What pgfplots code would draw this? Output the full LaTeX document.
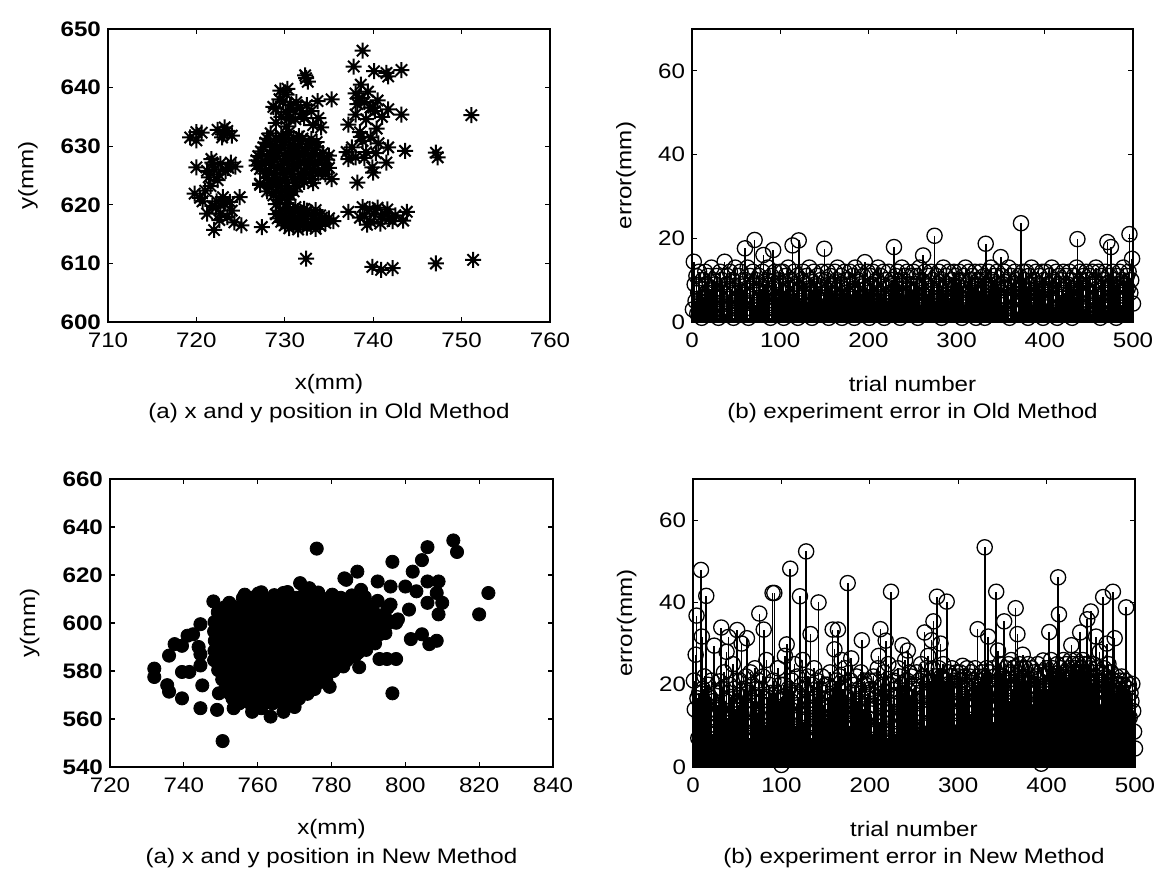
\documentclass[border=0pt]{standalone}
\usepackage{fontspec}
\setmainfont{Liberation Sans}
\usepackage{graphicx}
\usepackage{pgfplots}
\usepackage{pgfplotstable}
\pgfplotsset{compat=1.18}

\pgfdeclareplotmark{mstar}{%
  \pgfpathmoveto{\pgfpoint{-\pgfplotmarksize}{0pt}}\pgfpathlineto{\pgfpoint{\pgfplotmarksize}{0pt}}%
  \pgfpathmoveto{\pgfpoint{0pt}{-\pgfplotmarksize}}\pgfpathlineto{\pgfpoint{0pt}{\pgfplotmarksize}}%
  \pgfpathmoveto{\pgfpoint{-0.707\pgfplotmarksize}{-0.707\pgfplotmarksize}}\pgfpathlineto{\pgfpoint{0.707\pgfplotmarksize}{0.707\pgfplotmarksize}}%
  \pgfpathmoveto{\pgfpoint{-0.707\pgfplotmarksize}{0.707\pgfplotmarksize}}\pgfpathlineto{\pgfpoint{0.707\pgfplotmarksize}{-0.707\pgfplotmarksize}}%
  \pgfusepathqstroke}

\newcommand{\lab}[1]{\scalebox{1.15}[1]{#1}}
\newcommand{\fs}{\fontsize{10.5}{12.6}\selectfont}

% error of Old Method, trials 1..500
\pgfplotstableread[row sep=\\, header=false]{
3\\14.4\\9\\5\\11\\2\\7\\12\\4\\8\\1\\10\\6\\3\\12\\9\\5\\11\\7\\2\\8\\13\\4\\10\\6\\
9\\3\\11\\6\\1\\8\\12\\4\\10\\7\\5\\14.4\\2\\9\\11\\6\\3\\12\\8\\4\\10\\1\\7\\13\\5\\
8\\2\\11\\6\\12\\4\\9\\7\\3\\17.6\\10\\5\\13\\1\\8\\11\\6\\2\\12\\9\\19.6\\4\\10\\7\\3\\
11\\5\\8\\2\\12\\16\\6\\9\\3\\10\\13\\4\\7\\1\\11\\8\\17.2\\5\\12\\3\\9\\6\\10\\2\\12\\
4\\9\\12\\1\\7\\11\\5\\8\\13\\3\\10\\6\\2\\18.3\\9\\12\\4\\7\\11\\1\\19.5\\8\\5\\10\\3\\
12\\6\\9\\2\\11\\4\\8\\13\\5\\10\\1\\7\\12\\3\\9\\6\\11\\4\\8\\2\\10\\12\\5\\7\\17.5\\
3\\10\\6\\12\\1\\8\\11\\4\\9\\7\\2\\12\\5\\10\\13\\6\\3\\9\\11\\1\\8\\4\\12\\7\\5\\
10\\2\\9\\12\\6\\4\\11\\8\\1\\13\\5\\7\\10\\3\\12\\9\\6\\2\\11\\4\\14.3\\8\\5\\12\\7\\
1\\11\\6\\9\\12\\3\\8\\5\\10\\2\\13\\7\\4\\11\\9\\6\\12\\1\\8\\10\\3\\5\\12\\7\\9\\
4\\10\\6\\17.9\\2\\11\\8\\12\\5\\9\\1\\7\\13\\3\\10\\6\\11\\4\\12\\8\\2\\9\\5\\11\\7\\
12\\3\\9\\6\\11\\1\\8\\13\\4\\10\\7\\15.9\\5\\12\\2\\9\\6\\11\\3\\8\\12\\4\\10\\7\\20.6\\
5\\11\\2\\9\\12\\6\\8\\1\\10\\13\\4\\7\\11\\3\\9\\12\\5\\8\\2\\10\\6\\12\\4\\11\\7\\
9\\3\\12\\6\\10\\1\\8\\11\\4\\13\\7\\2\\9\\12\\5\\10\\3\\11\\6\\8\\12\\1\\9\\4\\10\\
7\\12\\3\\10\\5\\11\\1\\18.7\\9\\6\\12\\2\\8\\13\\4\\10\\7\\11\\3\\9\\12\\5\\8\\6\\15.5\\
11\\4\\9\\12\\2\\8\\6\\10\\13\\1\\7\\11\\5\\9\\3\\12\\6\\10\\2\\8\\11\\4\\23.6\\7\\12\\
3\\10\\6\\12\\8\\1\\11\\5\\9\\13\\4\\7\\10\\2\\12\\6\\9\\3\\11\\8\\5\\12\\1\\10\\7\\
12\\4\\9\\6\\11\\2\\8\\13\\5\\10\\3\\7\\12\\1\\9\\11\\6\\4\\10\\8\\12\\2\\7\\11\\5\\
9\\3\\12\\7\\10\\1\\8\\11\\5\\6\\13\\19.8\\4\\9\\12\\2\\10\\7\\11\\3\\8\\12\\6\\10\\4\\
11\\7\\2\\12\\9\\5\\10\\13\\3\\8\\12\\6\\1\\11\\9\\4\\10\\7\\12\\2\\19.1\\8\\11\\5\\17.9\\
6\\12\\3\\10\\8\\1\\11\\9\\5\\12\\7\\4\\10\\13\\2\\9\\6\\11\\8\\12\\21\\7\\10\\15.1\\4.4\\
}\olderr

% error of New Method, trials 1..500
\pgfplotstableread[row sep=\\, header=false]{
21\\14\\27.3\\36.8\\16.7\\7\\18\\12\\47.9\\31.7\\19\\9\\22\\15\\41.6\\11\\20\\6\\17\\13\\21\\8\\16\\29.5\\12\\
18\\10\\15\\4\\20.8\\14\\33.9\\19\\11\\23\\7\\16\\28\\12\\31.6\\20\\9\\17\\13\\25\\6\\19\\14\\21\\33.3\\
15\\8\\21\\12\\30\\17\\5\\19\\13\\22\\31.3\\10\\18\\7\\23\\14\\20\\11\\16\\24\\9\\19\\13\\21\\37.3\\
12\\19\\8\\22\\33.4\\15\\10\\26\\17\\6\\20\\13\\18\\9\\42.3\\21\\42.3\\14\\18\\11\\24\\7\\16\\20\\0.5\\
17\\11\\20\\27\\9\\29.8\\14\\19\\6\\48.2\\16\\21\\12\\18\\25\\10\\15\\22\\8\\17\\41.5\\13\\20\\26\\11\\
19\\9\\52.4\\16\\22\\12\\18\\32.3\\7\\20\\14\\24\\10\\17\\21\\5\\40\\13\\19\\8\\22\\15\\11\\18\\20\\
12\\20\\7\\17\\23\\10\\15\\33.4\\19\\28.6\\13\\21\\9\\33.4\\16\\22\\6\\26\\14\\19\\11\\24\\17\\8\\44.7\\
15\\10\\21\\26.4\\13\\18\\8\\20\\12\\22\\16\\7\\19\\11\\23\\30.8\\14\\9\\21\\20\\17\\12\\18\\6\\21\\
19\\13\\8\\22\\15\\21\\10\\17\\24\\27\\11\\33.5\\16\\20\\9\\23\\14\\30.7\\18\\7\\25\\12\\20\\42.6\\15\\
11\\21\\17\\8\\19\\13\\24\\10\\22\\16\\20\\29.6\\14\\18\\26\\9\\21\\28.3\\12\\23\\17\\22\\7\\19\\14\\
20\\12\\23\\16\\9\\21\\18\\25\\13\\22\\17\\32.7\\10\\24\\19\\27\\14\\21\\11\\30.8\\24\\35.4\\16\\22\\12\\
41.4\\19\\24\\13\\30\\22\\17\\25\\11\\21\\20\\40.2\\15\\23\\9\\22\\18\\24\\13\\21\\19\\10\\23\\16\\22\\
18\\23\\14\\21\\24.6\\17\\22\\11\\20\\24\\15\\19\\22\\13\\23\\18\\21\\10\\24\\16\\20\\33.5\\22\\14\\21\\
19\\23\\12\\22\\53.4\\18\\24\\15\\31.7\\21\\23\\16\\20\\24\\11\\22\\19\\42.6\\14\\28.3\\21\\25\\17\\22\\20\\
22\\35.4\\18\\24\\13\\21\\25\\16\\23\\26\\19\\12\\24\\20\\38.6\\22\\32.3\\15\\25\\21\\18\\24\\27.3\\13\\22\\
24\\17\\21\\25\\12\\22\\19\\24\\15\\20\\23\\11\\22\\18\\25\\14\\21\\23\\0.8\\19\\25.9\\16\\22\\20\\24\\
19\\23\\32.8\\15\\26\\21\\24\\13\\22\\22\\18\\25\\46.1\\37.1\\20\\24\\12\\22\\26\\17\\23\\25\\15\\21\\24\\
22\\26\\29.6\\18\\25\\24\\21\\26\\15\\23\\25\\19\\32.7\\24\\22\\26\\17\\25\\23\\20\\35.9\\25\\18\\24\\37.8\\
23\\20\\25\\16\\22\\31.7\\24\\19\\21\\28\\15\\23\\20\\41.3\\24\\18\\22\\30\\19\\25\\21\\17\\23\\20\\42.6\\
21\\31.3\\18\\22\\16\\20\\13\\21\\19\\22\\10\\20\\17\\21\\38.8\\14\\19\\20\\12\\18\\16\\20.2\\13.6\\8.6\\4.5\\
}\newerr

\pgfplotsset{
  myaxis/.style={
    scale only axis,
    anchor=south west,
    axis line style={black, line width=0.8pt},
    tick align=inside,
    major tick length=2.5pt,
    tick style={black, line width=0.6pt},
    clip=false,
    scaled ticks=false,
    /pgf/number format/assume math mode=true,
    tick label style={font=\fs},
    xticklabel style={yshift=-2pt},
    xticklabel={\lab{\pgfmathprintnumber{\tick}}},
    yticklabel={\lab{\pgfmathprintnumber{\tick}}},
    every axis x label/.style={at={(axis description cs:0.5,0)}, anchor=center, yshift=-31pt, font=\fs},
    every axis y label/.style={rotate=90, anchor=center, font=\fs},
  },
  stemplot/.style={ycomb, black, line width=0.8pt, mark=o, mark size=3.8pt, mark options={solid, line width=0.65pt}},
}

\begin{document}
\begin{tikzpicture}

% ---------------- top left -----------------
\begin{axis}[myaxis, at={(54pt,278.5pt)}, width=221pt, height=146.5pt,
  xmin=710, xmax=760, ymin=600, ymax=650,
  xtick={710,720,...,760}, ytick={600,610,...,650},
  yticklabel={\bfseries\lab{\pgfmathprintnumber{\tick}}},
  xlabel={\lab{x(mm)}}, ylabel={\lab{y(mm)}},
  ylabel style={at={(axis description cs:-0.181,0.5)}}]
\addplot[only marks, black, mark=mstar, mark size=4pt, line width=1pt] coordinates {
(728.4,632.2) (729.6,631.8) (730.5,632.4) (731.6,631.7)
(727.8,630.6) (728.9,630.2) (729.8,630.8) (730.9,630.3) (731.8,630.9) (732.7,630.4) (733.6,630.7)
(727.3,629.1) (728.3,628.7) (729.4,629.3) (730.3,628.8) (731.2,629.2) (732.3,628.9) (733.4,629.3) (734.3,628.8)
(726.8,627.6) (727.9,627.2) (728.8,627.8) (729.9,627.4) (730.8,627.7) (731.8,627.3) (732.9,627.6) (733.8,627.2) (734.8,627.7)
(727.2,626.1) (728.2,625.8) (729.2,626.3) (730.2,625.9) (731.1,626.2) (732.2,625.7) (733.2,626.1) (734.2,625.8) (735.0,626.3)
(728.0,624.6) (729.0,624.2) (730.0,624.7) (731.0,624.3) (732.0,624.6) (733.0,624.4) (735.3,624.4)
(727.2,623.4) (728.5,623.0) (729.5,623.2) (730.5,622.8) (731.4,623.1)
(728.7,621.6) (729.7,621.3) (730.6,621.7) (729.0,620.1) (730.2,620.3)
(730.2,619.4) (731.2,619.6) (732.2,619.3)
(729.0,618.4) (730.0,618.2) (731.0,618.5) (732.0,618.1) (733.0,618.4) (734.0,618.2)
(729.6,617.1) (730.6,616.9) (731.6,617.2) (732.6,616.8) (733.6,617.1) (734.6,616.9) (735.5,617.2)
(730.5,616.0) (731.5,615.8) (732.5,616.1) (733.5,615.9)
(728.0,631.3) (729.0,631.3) (730.0,631.2) (731.0,631.4) (732.0,631.3) (733.0,631.2)
(727.6,629.8) (728.6,629.9) (729.6,629.7) (730.6,629.8) (731.6,629.9) (732.6,629.7) (733.6,629.8)
(727.0,628.3) (728.0,628.2) (729.0,628.4) (730.0,628.3) (731.0,628.2) (732.0,628.4) (733.0,628.3) (734.0,628.2) (735.0,628.4)
(727.5,626.8) (728.5,626.9) (729.5,626.7) (730.5,626.8) (731.5,626.9) (732.5,626.7) (733.5,626.8) (734.5,626.9)
(727.8,625.3) (728.8,625.2) (729.8,625.4) (730.8,625.3) (731.8,625.2) (732.8,625.4) (733.8,625.3) (734.6,625.2)
(728.2,623.8) (729.2,623.9) (730.2,623.7) (731.2,623.8) (732.2,623.9) (733.2,623.7)
(728.0,622.3) (729.0,622.2) (730.0,622.4) (731.0,622.3) (729.4,620.8) (730.4,620.9)
(729.5,619.0) (730.5,619.1) (731.5,618.9) (732.5,619.0) (733.5,619.1)
(729.2,617.7) (730.2,617.6) (731.2,617.8) (732.2,617.7) (733.2,617.6) (734.2,617.8) (735.0,617.7)
(730.0,616.5) (731.0,616.4) (732.0,616.6) (733.0,616.5) (734.0,616.4)
(729.5,639.5) (730.2,638.8) (729.8,637.6) (730.6,637.0) (729.0,636.4) (728.7,636.7) (730.1,635.8)
(731.0,636.2) (731.8,636.6) (732.5,637.0) (733.0,636.0) (733.7,637.7) (735.3,638.0) (732.2,634.8)
(731.2,634.6) (733.2,633.6) (734.1,633.2) (729.0,634.0) (730.2,633.4)
(729.4,638.0) (730.3,639.8) (731.3,637.5) (732.0,635.5) (730.5,634.8) (729.6,635.0) (733.8,634.8)
(719.3,631.5) (720.6,632.3) (720.0,631.0) (723.5,632.6) (722.9,631.5) (724.0,631.8) (723.2,633.2)
(723.0,632.0) (722.4,632.8) (720.0,632.4)
(720.0,626.4) (722.7,627.0) (723.9,627.2) (722.0,626.0) (723.3,625.8) (721.4,624.7) (722.4,624.2) (724.4,626.5)
(721.8,627.2) (721.2,625.8) (722.5,625.2) (723.6,626.3) (721.7,627.8)
(719.8,621.9) (721.0,622.4) (720.4,621.2) (721.6,623.2)
(723.1,620.2) (722.7,618.5) (723.5,617.9) (721.2,618.5) (724.9,621.3) (722.2,619.5) (724.0,619.0) (723.0,621.3)
(722.3,620.6) (723.8,620.5) (722.6,617.4) (721.8,619.8) (720.7,620.6)
(722.0,615.7) (725.1,616.5) (727.4,616.2) (724.3,617.0)
(727.2,623.6) (726.8,626.7) (732.4,641.6) (732.6,641.0) (732.3,642.1) (732.4,610.8)
(738.8,646.3) (737.8,643.6) (740.1,642.8) (741.5,642.5) (741.7,641.9) (743.2,643.0)
(738.4,638.2) (738.6,640.5) (739.7,636.6) (738.0,635.4) (741.7,636.3) (743.2,635.4) (737.2,633.7)
(739.0,637.5) (738.0,639.0) (740.5,637.8) (741.0,635.0) (739.2,634.6) (740.4,633.0) (738.5,632.4)
(738.2,637.2) (739.4,639.3) (740.2,636.0) (738.6,631.6) (740.0,636.6)
(737.6,629.8) (738.8,630.9) (738.0,628.1) (739.7,631.5) (741.7,629.8) (743.6,629.2) (741.5,627.2)
(739.9,626.4) (737.2,627.8) (738.2,623.8) (739.2,629.0) (740.6,630.5) (737.0,629.0) (740.0,625.5)
(739.0,628.0) (740.3,628.8)
(737.2,618.8) (738.8,619.6) (740.1,618.5) (741.3,618.5) (739.7,617.1) (743.4,617.3) (743.8,618.8)
(739.0,618.0) (740.5,619.5) (741.8,617.6) (742.5,618.2) (738.5,617.8) (740.8,616.8)
(739.6,619.3) (740.9,618.0) (741.6,619.2) (742.2,617.2) (739.3,616.6)
(747.1,628.9) (747.3,628.1) (751.1,635.3)
(739.9,609.4) (740.9,608.9) (742.2,609.2) (747.1,610.0) (751.3,610.6)
};
\node[font=\fs] at (rel axis cs:0.5,0) [yshift=-45.5pt] {\lab{(a) x and y position in Old Method}};
\end{axis}

% ---------------- top right -----------------
\begin{axis}[myaxis, at={(346pt,278.5pt)}, width=220.5pt, height=146.5pt,
  xmin=0, xmax=500, ymin=0, ymax=70,
  xtick={0,100,...,500}, ytick={0,20,40,60},
  xlabel={\lab{trial number}}, ylabel={\lab{error(mm)}},
  ylabel style={at={(axis description cs:-0.15,0.5)}}]
\addplot[stemplot] table[x expr=\coordindex+1, y index=0] {\olderr};
\node[font=\fs] at (rel axis cs:0.5,0) [yshift=-45.5pt] {\lab{(b) experiment error in Old Method}};
\end{axis}

% ---------------- bottom left -----------------
\begin{axis}[myaxis, at={(55pt,56pt)}, width=221.5pt, height=144pt,
  xmin=720, xmax=840, ymin=540, ymax=660,
  xtick={720,740,...,840}, ytick={540,560,...,660},
  yticklabel={\bfseries\lab{\pgfmathprintnumber{\tick}}},
  xlabel={\lab{x(mm)}}, ylabel={\lab{y(mm)}},
  ylabel style={at={(axis description cs:-0.181,0.5)}}]
\addplot[only marks, black, mark=*, mark size=3.3pt, mark options={fill=black, draw=black}] coordinates {
(750.5,550.8) (739.5,568.6) (744.5,564.5) (732,581) (732,577.5) (736,586.4) (735.5,574.1) (736,571.4)
(739.5,590.5) (741,594.7) (739.5,579.6) (741.5,579.6) (744.5,582.3) (745,574) (744,590) (744.5,599.5)
(748,609) (750.5,603.6) (753.5,598) (756,610.4) (756.5,607) (749,563.8) (753.5,564.5) (758.5,563)
(763.5,561) (767,563) (749.5,570.7) (752.5,574) (767,612.5) (765,609) (771.5,616.6) (776,631)
(780.5,580) (779.5,573.4) (784,618) (787,621.4) (788,613.8) (792.5,617.3) (796,615.2) (796.5,625.5)
(796,607.7) (797.5,600.1) (795,585) (797.5,585) (793,585) (796.5,570.7) (787.5,581.6) (800,615.2)
(802,621.4) (804.5,626.2) (806,631.6) (803,613.2) (801,605.6) (801.5,593.3) (804.5,595.3) (806.5,591.2)
(808.5,592.6) (806,617.3) (809,617.3) (808.5,612.5) (810,608.4) (809,603.6) (806,608.4) (813,634.4)
(814,629.6) (820,603.6) (822.5,612.5) (798,601.5) (742.5,595.3) (737.5,591.2) (744.5,587) (754.5,597.4)
(756.5,611.8) (783.5,618.6) (774,614.5) (761,612.8)
(785.5,611.5) (789,610.8) (792.5,609.2) (795.2,606.3) (786.3,586.2) (789.4,588.8) (783.2,581.9) (778.6,576.2) (791.8,591.5) (794.6,595.8)
(760.2,612.3) (764.5,611.6) (768.1,612.9) (772.3,611.4) (776.4,612.7) (780.2,611.8)
(752.3,608.4) (759.1,607.6) (762.2,608.6) (765.4,607.5) (768.3,608.7) (771.2,607.4) (774.4,608.5) (777.2,607.6) (780.3,608.8) (783.4,607.3) (786.2,608.5) (789.3,607.7)
(749.2,604.5) (752.4,603.6) (755.3,604.6) (758.2,603.4) (761.4,604.4) (764.3,603.7) (767.2,604.6) (770.4,603.5) (773.3,604.5) (776.2,603.6) (779.4,604.7) (782.3,603.4) (785.2,604.5) (788.3,603.6) (791.4,604.6) (794.2,603.5)
(748.3,600.4) (751.2,599.6) (754.4,600.5) (757.3,599.5) (760.2,600.6) (763.4,599.7) (766.3,600.4) (769.2,599.5) (772.4,600.6) (775.3,599.6) (778.2,600.5) (781.4,599.4) (784.3,600.6) (787.2,599.7) (790.4,600.4) (793.3,599.6) (796.2,600.5)
(748.2,596.5) (751.4,595.6) (754.3,596.4) (757.2,595.5) (760.4,596.6) (763.3,595.7) (766.2,596.5) (769.4,595.4) (772.3,596.6) (775.2,595.5) (778.4,596.4) (781.3,595.6) (784.2,596.5) (787.4,595.5) (790.3,596.6) (793.2,595.4)
(748.4,592.6) (751.3,591.5) (754.2,592.4) (757.4,591.6) (760.3,592.5) (763.2,591.4) (766.4,592.6) (769.3,591.5) (772.2,592.4) (775.4,591.6) (778.3,592.5) (781.2,591.4) (784.4,592.6) (787.3,591.5) (790.2,592.4)
(748.3,588.4) (751.2,587.6) (754.4,588.5) (757.3,587.4) (760.2,588.6) (763.4,587.5) (766.3,588.4) (769.2,587.6) (772.4,588.5) (775.3,587.4) (778.2,588.6) (781.4,587.5) (784.3,588.4) (787.2,587.6)
(748.2,584.5) (751.4,583.6) (754.3,584.4) (757.2,583.5) (760.4,584.6) (763.3,583.4) (766.2,584.5) (769.4,583.6) (772.3,584.4) (775.2,583.5) (778.4,584.6) (781.3,583.4) (784.2,584.5)
(749.3,580.4) (752.2,579.6) (755.4,580.5) (758.3,579.4) (761.2,580.6) (764.4,579.5) (767.3,580.4) (770.2,579.6) (773.4,580.5) (776.3,579.4) (779.2,580.6)
(750.4,576.5) (753.3,575.6) (756.2,576.4) (759.4,575.5) (762.3,576.6) (765.2,575.4) (768.4,576.5) (771.3,575.6) (774.2,576.4) (777.4,575.5)
(751.3,572.4) (754.2,571.6) (757.4,572.5) (760.3,571.4) (763.2,572.6) (766.4,571.5) (769.3,572.4) (772.2,571.6) (775.4,572.5)
(753.2,568.5) (756.4,567.6) (759.3,568.4) (762.2,567.5) (765.4,568.6) (768.3,567.4) (771.2,568.5)
(761,564.5) (770,565)
(758.5,610.5) (761.5,610.5) (767.5,610.5) (770.5,610.5) (773.5,610.5) (776.5,610.5) (779.5,610.5) (782.5,610.5)
(751,606.5) (754,606.5) (757,606.5) (760,606.5) (763,606.5) (766,606.5) (769,606.5) (772,606.5) (775,606.5) (778,606.5) (781,606.5) (784,606.5) (787,606.5) (790,606.5)
(749.5,602.5) (752.5,602.5) (755.5,602.5) (758.5,602.5) (761.5,602.5) (764.5,602.5) (767.5,602.5) (770.5,602.5) (773.5,602.5) (776.5,602.5) (779.5,602.5) (782.5,602.5) (785.5,602.5) (788.5,602.5) (791.5,602.5) (794.5,602.5)
(749.5,598.5) (752.5,598.5) (755.5,598.5) (758.5,598.5) (761.5,598.5) (764.5,598.5) (767.5,598.5) (770.5,598.5) (773.5,598.5) (776.5,598.5) (779.5,598.5) (782.5,598.5) (785.5,598.5) (788.5,598.5) (791.5,598.5) (794.5,598.5)
(749.5,594.5) (752.5,594.5) (755.5,594.5) (758.5,594.5) (761.5,594.5) (764.5,594.5) (767.5,594.5) (770.5,594.5) (773.5,594.5) (776.5,594.5) (779.5,594.5) (782.5,594.5) (785.5,594.5) (788.5,594.5) (791.5,594.5)
(749.5,590.5) (752.5,590.5) (755.5,590.5) (758.5,590.5) (761.5,590.5) (764.5,590.5) (767.5,590.5) (770.5,590.5) (773.5,590.5) (776.5,590.5) (779.5,590.5) (782.5,590.5) (785.5,590.5) (788.5,590.5)
(749.5,586.5) (752.5,586.5) (755.5,586.5) (758.5,586.5) (761.5,586.5) (764.5,586.5) (767.5,586.5) (770.5,586.5) (773.5,586.5) (776.5,586.5) (779.5,586.5) (782.5,586.5) (785.5,586.5)
(749.5,582.5) (752.5,582.5) (755.5,582.5) (758.5,582.5) (761.5,582.5) (764.5,582.5) (767.5,582.5) (770.5,582.5) (773.5,582.5) (776.5,582.5) (779.5,582.5) (782.5,582.5)
(750.5,578.5) (753.5,578.5) (756.5,578.5) (759.5,578.5) (762.5,578.5) (765.5,578.5) (768.5,578.5) (771.5,578.5) (774.5,578.5) (777.5,578.5)
(751.5,574.5) (754.5,574.5) (757.5,574.5) (760.5,574.5) (763.5,574.5) (766.5,574.5) (769.5,574.5) (772.5,574.5) (775.5,574.5)
(752.5,570.5) (755.5,570.5) (758.5,570.5) (761.5,570.5) (764.5,570.5) (767.5,570.5) (770.5,570.5) (773.5,570.5)
(755,566.5) (758,566.5) (761,566.5) (764,566.5) (767,566.5) (770,566.5)
};
\node[font=\fs] at (rel axis cs:0.5,0) [yshift=-45.5pt] {\lab{(a) x and y position in New Method}};
\end{axis}

% ---------------- bottom right -----------------
\begin{axis}[myaxis, at={(346.5pt,56pt)}, width=221pt, height=144pt,
  xmin=0, xmax=500, ymin=0, ymax=70,
  xtick={0,100,...,500}, ytick={0,20,40,60},
  xlabel={\lab{trial number}}, ylabel={\lab{error(mm)}},
  ylabel style={at={(axis description cs:-0.15,0.5)}}]
\addplot[stemplot] table[x expr=\coordindex+1, y index=0] {\newerr};
\node[font=\fs] at (rel axis cs:0.5,0) [yshift=-45.5pt] {\lab{(b) experiment error in New Method}};
\end{axis}

\pgfresetboundingbox
\path[use as bounding box] (0pt,0pt) rectangle (578.5pt,439.5pt);
\end{tikzpicture}
\end{document}
